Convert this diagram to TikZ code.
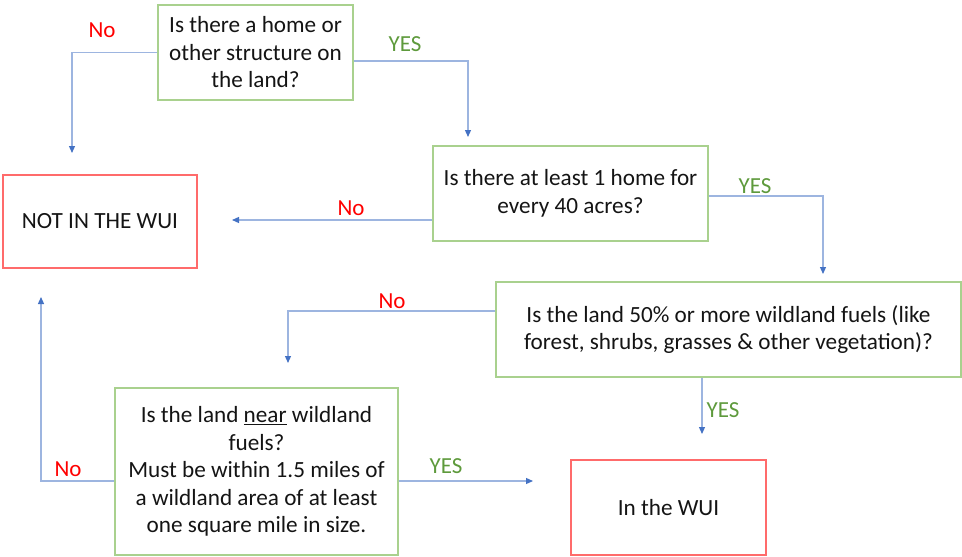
\documentclass[tikz,border=0pt]{standalone}
\usepackage{fontspec}
\setmainfont{Carlito}
\usetikzlibrary{arrows.meta}
\definecolor{boxgreen}{HTML}{A9D18E}
\definecolor{boxred}{HTML}{FF6B6B}
\definecolor{linkblue}{HTML}{9DB5E0}
\definecolor{tipblue}{HTML}{4472C4}
\definecolor{nored}{HTML}{FF0000}
\definecolor{yesgreen}{HTML}{5E9A3C}
\definecolor{txt}{HTML}{141414}
\tikzset{
  qbox/.style={draw=boxgreen, line width=1.3pt, rectangle, align=center, text=txt,
    font=\fontsize{23.2}{27.5}\selectfont, inner sep=0pt},
  rbox/.style={draw=boxred, line width=1.3pt, rectangle, align=center, text=txt,
    font=\fontsize{23.2}{27.5}\selectfont, inner sep=0pt},
  link/.style={draw=linkblue, line width=1.2pt, -{Triangle[length=7pt,width=6pt,color=tipblue]}},
  nolab/.style={text=nored, font=\fontsize{23}{25}\selectfont, inner sep=0pt},
  yeslab/.style={text=yesgreen, font=\fontsize{23}{25}\selectfont, inner sep=0pt}
}
\begin{document}
\begin{tikzpicture}[x=1pt,y=-1pt]
\useasboundingbox (0,0) rectangle (962,557);
\node[qbox, minimum width=195pt, minimum height=95pt] (q1) at (255.5,52.5)
  {Is there a home or\\other structure on\\the land?};
\node[rbox, minimum width=194pt, minimum height=93pt] (no) at (100,221.5)
  {NOT IN THE WUI};
\node[qbox, minimum width=275pt, minimum height=95pt] (q2) at (570.5,193.5)
  {Is there at least 1 home for\\every 40 acres?};
\node[qbox, minimum width=465pt, minimum height=95pt] (q3) at (728.5,329.5)
  {Is the land 50\% or more wildland fuels (like\\forest, shrubs, grasses \& other vegetation)?};
\node[qbox, minimum width=283pt, minimum height=167pt] (q4) at (256.5,471.5)
  {Is the land \underline{near} wildland\\fuels?\\Must be within 1.5 miles of\\a wildland area of at least\\one square mile in size.};
\node[rbox, minimum width=195pt, minimum height=95pt] (wui) at (668.5,507.5)
  {In the WUI};

\coordinate (e1) at (72,153);
\coordinate (e2) at (468,137);
\coordinate (e3) at (232,220);
\coordinate (e4) at (823,274);
\coordinate (e5) at (288,363);
\coordinate (e6) at (702,434);
\coordinate (e7) at (41,297);
\coordinate (e8) at (533,481);

\draw[link] (q1.west) -| (e1);
\draw[link] ([yshift=-8.5pt]q1.east) -| (e2);
\draw[link] ([yshift=-26.5pt]q2.west) -- (e3);
\draw[link] ([yshift=-2.5pt]q2.east) -| (e4);
\draw[link] ([yshift=18.5pt]q3.west) -| (e5);
\draw[link] ([xshift=-26.5pt]q3.south) -- (e6);
\draw[link] ([yshift=-9.5pt]q4.west) -| (e7);
\draw[link] ([yshift=-9.5pt]q4.east) -- (e8);

\node[nolab] (l1) at (102,30) {No};
\node[yeslab] (l2) at (405,44) {YES};
\node[nolab] (l3) at (351,208) {No};
\node[yeslab] (l4) at (755,186) {YES};
\node[nolab] (l5) at (392,301) {No};
\node[yeslab] (l6) at (723,410) {YES};
\node[nolab] (l7) at (68,469) {No};
\node[yeslab] (l8) at (446,466) {YES};
\end{tikzpicture}
\end{document}
